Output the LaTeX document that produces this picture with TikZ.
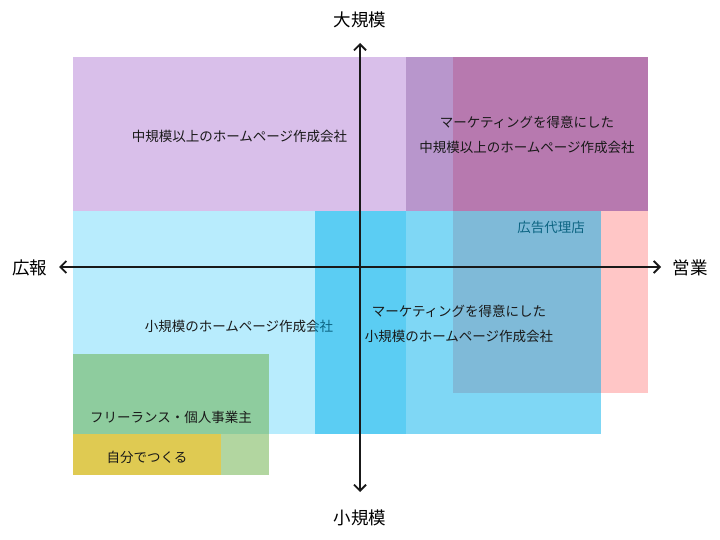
\documentclass[tikz,border=0pt]{standalone}
\usepackage{fontspec}
\setmainfont{Noto Sans CJK JP}
\usetikzlibrary{arrows.meta}

\begin{document}
\begin{tikzpicture}[x=1pt, y=-1pt]
    % --- Estilos ---
    \tikzset{
        etiqueta/.style={text=black!90, align=center, font=\fontsize{13.5}{25}\selectfont},
        ejetexto/.style={text=black, font=\fontsize{17.5}{20}\selectfont},
        eje/.style={line width=1.8pt, color=black!90,
            {Straight Barb[length=6pt,width=12pt]}-{Straight Barb[length=6pt,width=12pt]}}
    }
    \useasboundingbox (0,0) rectangle (720,540);

    % --- Colores ---
    \definecolor{lilaclaro}{HTML}{D9BFEA}
    \definecolor{celeste}{HTML}{B8ECFD}
    \definecolor{rosa}{HTML}{FFC6C6}
    \definecolor{morado}{HTML}{712D99}
    \definecolor{azul}{HTML}{00AFEB}
    \definecolor{verde}{HTML}{66AD41}
    \definecolor{amarillo}{HTML}{DFCA52}

    % --- Zonas (de abajo hacia arriba) ---
    \fill[lilaclaro] (73,57) rectangle (406,211);
    \node[etiqueta] (medianas) at (239.5,136) {中規模以上のホームページ作成会社};

    \fill[celeste] (73,211) rectangle (406,434);
    \node[etiqueta] (pequenas) at (239,326) {小規模のホームページ作成会社};

    \fill[rosa] (453,57) rectangle (648,393);
    \node[etiqueta] (agencia) at (551,227) {広告代理店};

    \fill[morado, fill opacity=0.5] (406,57) rectangle (648,211);
    \node[etiqueta] (medianasmkt) at (527,135) {マーケティングを得意にした\\中規模以上のホームページ作成会社};

    \fill[azul, fill opacity=0.5] (315,211) rectangle (601,434);
    \node[etiqueta] (pequenasmkt) at (459,324) {マーケティングを得意にした\\小規模のホームページ作成会社};

    \fill[verde, fill opacity=0.5] (73,354) rectangle (269,475);
    \node[etiqueta] (freelance) at (171,417) {フリーランス・個人事業主};

    \fill[amarillo] (73,434) rectangle (221,475);
    \node[etiqueta] (propio) at (147,457) {自分でつくる};

    % --- Ejes ---
    \coordinate (izq) at (59,267);
    \coordinate (der) at (661,267);
    \coordinate (arriba) at (360,43);
    \coordinate (abajo) at (360,492);
    \draw[eje] (izq) -- (der);
    \draw[eje] (abajo) -- (arriba);

    \node[ejetexto] (grande) at (360,20) {大規模};
    \node[ejetexto] (chico) at (360,518) {小規模};
    \node[ejetexto] (difusion) at (30,268) {広報};
    \node[ejetexto] (ventas) at (690,268) {営業};
\end{tikzpicture}
\end{document}
